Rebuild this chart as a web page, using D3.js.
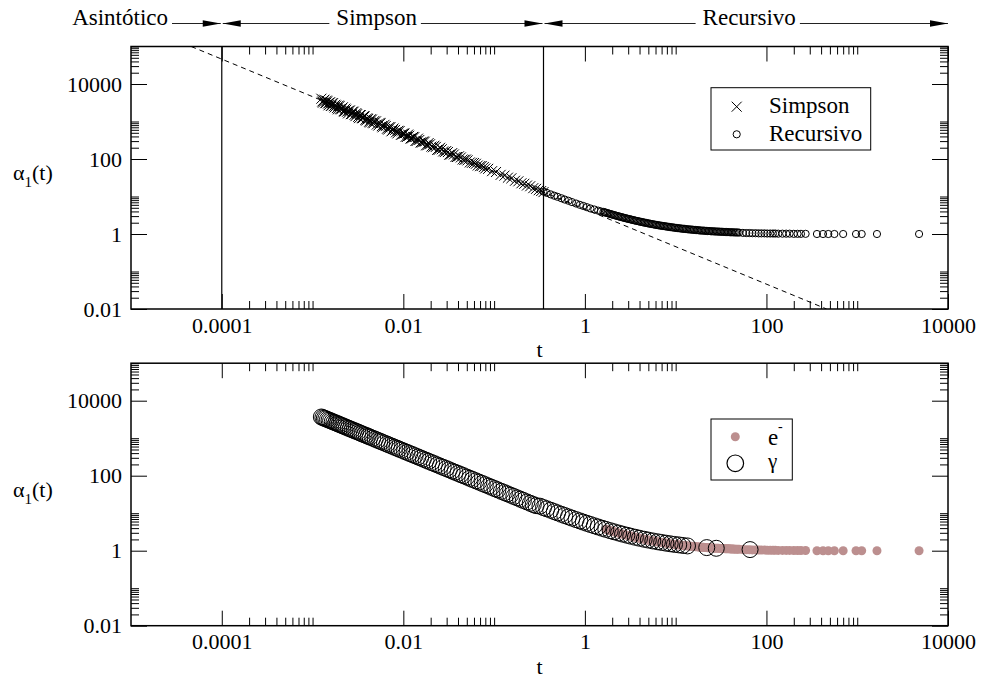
<!DOCTYPE html>
<html>
<head>
<meta charset="utf-8">
<script src="https://cdn.jsdelivr.net/npm/d3@7"></script>
<style>
body { margin: 0; background: #fff; }
text { font-family: "Liberation Serif", "Times New Roman", serif; }
</style>
</head>
<body>
<svg id="mySvg" width="982" height="678"></svg>
<script>
var svg = d3.select("#mySvg");

// axis ticks
const xMajor = [1e-4, 1e-2, 1, 100, 1e4];
const xMajorLabels = ["0.0001", "0.01", "1", "100", "10000"];
const yMajor = [0.01, 1, 100, 1e4];
const yMajorLabels = ["0.01", "1", "100", "10000"];

// header regions (edges in t)
const headerLabels = ["Asintótico", "Simpson", "Recursivo"];
const headerEdges = [1e-4, 0.35, 1e4];
const dividerT = [1e-4, 0.35];

// asymptote (dashed)
const asymT = [4.6e-5, 460];
const asymA = [1e5, 0.01];

// Simpson
const simpsonT = [0.00125, 0.0013, 0.00135, 0.0014, 0.00145, 0.0015, 0.00156, 0.00162, 0.00168, 0.00175,
    0.00182, 0.0019, 0.00198, 0.00207, 0.00216, 0.00225, 0.00235, 0.00246, 0.00258, 0.0027,
    0.00283, 0.00297, 0.0031, 0.00325, 0.0034, 0.00357, 0.00375, 0.0039, 0.0041, 0.0043,
    0.0045, 0.0047, 0.005, 0.0053, 0.0056, 0.0059, 0.0062, 0.0066, 0.007, 0.0074,
    0.0078, 0.0083, 0.0088, 0.0094, 0.01,
    0.0106, 0.0113, 0.012, 0.0128, 0.0136, 0.0145, 0.0155, 0.0166, 0.0178, 0.019,
    0.0204, 0.022, 0.0236, 0.0254, 0.0275, 0.0297, 0.032, 0.0346, 0.0375, 0.041,
    0.045, 0.049,
    0.054, 0.06, 0.066, 0.073, 0.08, 0.086, 0.095, 0.105, 0.118, 0.13,
    0.142, 0.155, 0.17, 0.185, 0.2, 0.215, 0.23, 0.25, 0.27, 0.29,
    0.31, 0.33, 0.35,
    0.00128, 0.00133, 0.00138, 0.00143, 0.00148, 0.00153, 0.00159, 0.00165, 0.00171, 0.00178,
    0.00186, 0.00194, 0.00202, 0.00211, 0.0022, 0.0023, 0.0024, 0.00252, 0.00264, 0.00276,
    0.0029, 0.00303, 0.00318, 0.00333, 0.00348, 0.00366, 0.00382, 0.004, 0.0042, 0.0044,
    0.0046, 0.0048, 0.0051, 0.0055, 0.0058, 0.0064, 0.0068, 0.0072, 0.0076, 0.0081,
    0.0086, 0.0091, 0.0097, 0.0103, 0.011, 0.0116, 0.0124, 0.0132, 0.014, 0.015,
    0.016, 0.0172, 0.0184, 0.0197, 0.0212, 0.0228, 0.0245, 0.0265, 0.0286, 0.031,
    0.0333, 0.036, 0.039, 0.043, 0.047, 0.051, 0.057, 0.063, 0.07, 0.077];
const simpsonA = [4050, 3180, 3820, 3120, 3430, 2700, 3240, 2640, 3070, 2370,
    2650, 2110, 2560, 2110, 2400, 1840, 2060, 1650, 1960, 1580,
    1820, 1390, 1570, 1230, 1490, 1220, 1370, 1060, 1170, 940,
    1120, 900, 1010, 780, 890, 700, 815, 640, 710, 547,
    650, 515, 565, 440, 483,
    390, 448, 352, 388, 304, 349, 276, 294, 232, 266,
    214, 226, 175, 199, 159, 163, 130, 144, 113, 118,
    97, 97,
    81, 78, 67, 65, 56, 54.6, 47.4, 45, 37.8, 36,
    31.8, 30.6, 26.3, 25.4, 22.5, 21.8, 19.6, 18.8, 16.7, 16,
    14.7, 14, 13.1,
    3410, 3630, 3070, 3600, 3010, 3190, 2600, 3070, 2560, 2790,
    2280, 2660, 2140, 2290, 1880, 2200, 1820, 1950, 1570, 1830,
    1510, 1670, 1330, 1490, 1230, 1380, 1110, 1220, 986, 1150,
    930, 1035, 830, 920, 753, 755, 608, 703, 575, 596,
    481, 556, 450, 478, 389, 417, 352, 383, 302, 322,
    273, 289, 232, 248, 206, 210, 175, 182, 153, 153,
    131, 132, 113, 110, 95, 92, 79, 74.5, 64.4, 60.9];

// Recursivo
const recT = [0.35, 0.38, 0.42, 0.46, 0.5, 0.55, 0.6, 0.66, 0.72, 0.8,
    0.88, 0.96, 1.05, 1.15, 1.27, 1.4, 1.5,
    1.6, 1.65, 1.7, 1.76, 1.82, 1.88, 1.95, 2.02, 2.09, 2.16,
    2.24, 2.32, 2.4, 2.48, 2.57, 2.66, 2.75, 2.85, 2.95, 3.05,
    3.16, 3.27, 3.38, 3.5, 3.62, 3.75, 3.88, 4.02, 4.16, 4.3,
    4.45, 4.6, 4.76, 4.93, 5.1, 5.28, 5.47, 5.66, 5.86, 6.06,
    6.27, 6.49, 6.72, 6.96, 7.2, 7.45, 7.71, 7.98, 8.26, 8.55,
    8.85, 9.16, 9.48, 9.81, 10.15, 10.5, 10.9, 11.3, 11.7, 12.1,
    12.5, 12.9, 13.4, 13.9, 14.4, 14.9, 15.4, 15.9, 16.5, 17.1,
    17.7, 18.3, 18.9, 19.6, 20.3, 21, 21.7, 22.5, 23.3, 24.1,
    24.9, 25.8, 26.7, 27.6, 28.6, 29.6, 30.6, 31.7, 32.8, 34,
    35.2, 36.4, 37.7, 39, 40.4, 41.8, 43.3, 44.8, 46.4, 48, 50,
    55, 60, 65, 70, 76, 82, 88, 95, 102,
    110, 118, 125, 135, 150, 165, 180, 200, 220, 240,
    270, 360, 420, 480, 560, 700, 970, 1120, 1650, 4800];
const recA = [13.5, 12.5, 11.4, 10.5, 9.8, 9.0, 8.3, 7.7, 7.1, 6.5,
    6.0, 5.6, 5.2, 4.8, 4.5, 4.2, 4.0,
    3.88, 3.79, 3.71, 3.61, 3.53, 3.45, 3.36, 3.28, 3.20, 3.13,
    3.05, 2.98, 2.92, 2.85, 2.79, 2.73, 2.67, 2.61, 2.56, 2.51,
    2.46, 2.41, 2.36, 2.31, 2.27, 2.23, 2.19, 2.14, 2.11, 2.07,
    2.03, 2.00, 1.97, 1.93, 1.90, 1.87, 1.84, 1.81, 1.78, 1.76,
    1.73, 1.71, 1.68, 1.66, 1.64, 1.62, 1.60, 1.58, 1.56, 1.54,
    1.52, 1.50, 1.49, 1.47, 1.45, 1.44, 1.42, 1.41, 1.39, 1.38,
    1.37, 1.36, 1.34, 1.33, 1.32, 1.31, 1.30, 1.29, 1.28, 1.27,
    1.26, 1.25, 1.24, 1.23, 1.23, 1.22, 1.21, 1.20, 1.20, 1.19,
    1.18, 1.18, 1.17, 1.17, 1.16, 1.16, 1.15, 1.15, 1.14, 1.14,
    1.13, 1.13, 1.12, 1.12, 1.11, 1.11, 1.11, 1.10, 1.10, 1.10, 1.09,
    1.07, 1.06, 1.06, 1.05, 1.05, 1.04, 1.04, 1.04, 1.03,
    1.03, 1.03, 1.03, 1.02, 1.02, 1.02, 1.02, 1.01, 1.01, 1.01,
    1.01, 1.0, 1.0, 1.0, 1.0, 1.0, 1.0, 1.0, 1.0, 1.0];

// gamma (bottom panel); e- uses the recursive points from t = 1.7
const gammaT = [0.00125, 0.0013, 0.00135, 0.0014, 0.00146, 0.00152, 0.00158, 0.00165, 0.00172, 0.0018,
    0.00188, 0.00196, 0.00205, 0.00215, 0.00225, 0.00236, 0.00248, 0.0026, 0.00273, 0.00287,
    0.003, 0.00316, 0.00333, 0.0035, 0.0037, 0.0039, 0.0041, 0.0043, 0.0046, 0.0049,
    0.0052, 0.0055, 0.0058, 0.0062, 0.0066, 0.007, 0.0075, 0.008, 0.0085, 0.009,
    0.0096, 0.0103, 0.011, 0.0118, 0.0126, 0.0135, 0.0145, 0.0155, 0.0166, 0.0178,
    0.019, 0.0205, 0.022, 0.0237, 0.0255, 0.0275, 0.0297, 0.032, 0.0345, 0.037,
    0.04, 0.043, 0.046, 0.05, 0.054, 0.058, 0.063, 0.068, 0.074, 0.08,
    0.087, 0.094, 0.102, 0.11, 0.12, 0.13, 0.14, 0.152, 0.165, 0.18,
    0.195, 0.21, 0.23, 0.25, 0.27, 0.29, 0.32, 0.35, 0.38, 0.42,
    0.46, 0.5, 0.55, 0.6, 0.66, 0.72, 0.8, 0.88, 0.96, 1.05,
    1.15, 1.27, 1.4, 1.55, 1.7, 1.9, 2.1, 2.35, 2.6, 2.9,
    3.2, 3.6, 4.0, 4.5, 5.0, 5.6, 6.3, 7.0, 7.8, 8.7,
    9.7, 10.8, 12, 13.5, 22, 28, 66];
const gammaA = [3680, 3540, 3410, 3290, 3150, 3030, 2910, 2790, 2670, 2560,
    2450, 2350, 2240, 2140, 2040, 1950, 1850, 1770, 1680, 1600,
    1530, 1460, 1380, 1310, 1240, 1180, 1120, 1070, 1000, 939,
    885, 836, 793, 742, 697, 657, 613, 575, 541, 511,
    479, 447, 418, 390, 365, 341, 317, 297, 277, 258,
    242, 224, 209, 194, 180, 167, 155, 144, 133, 124,
    115, 107, 100, 92, 85, 79.3, 73, 67.6, 62.2, 57.5,
    52.9, 48.9, 45.1, 41.8, 38.3, 35.4, 32.9, 30.3, 27.9, 25.6,
    23.6, 21.9, 20.0, 18.4, 17.0, 15.9, 15.4, 14.1, 13.1, 12.0,
    11.0, 10.2, 9.36, 8.67, 7.97, 7.39, 6.75, 6.23, 5.79, 5.38,
    5.0, 4.62, 4.29, 3.97, 3.71, 3.42, 3.19, 2.96, 2.77, 2.59,
    2.44, 2.28, 2.15, 2.02, 1.92, 1.82, 1.73, 1.66, 1.59, 1.53,
    1.47, 1.43, 1.38, 1.34, 1.21, 1.16, 1.07];
const electronStartT = 1.7;

const eColor = "#bc8f8f";
const fontSize = 22;

var x = d3.scaleLog().domain([1e-5, 1e4]).range([131, 948]);
var yTop = d3.scaleLog().domain([0.01, 1e5]).range([309, 46.5]);
var yBot = d3.scaleLog().domain([0.01, 1e5]).range([625.7, 363.2]);

function minorTicks(majors, domain) {
    let out = [];
    majors.forEach(m => {
        for (let k = 2; k <= 10; k++) {
            let v = m * k;
            if (v >= domain[0] * 1.0001 && v <= domain[1] * 1.0001) out.push(v);
        }
    });
    return out;
}

function styleAxis(g) {
    g.select(".domain").remove();
    g.attr("font-size", fontSize).attr("font-family", null);
    g.selectAll("line").attr("stroke", "black").attr("stroke-width", 1);
    g.selectAll("text").attr("fill", "black");
}

function drawPanel(y) {
    const x0 = x.range()[0], x1 = x.range()[1];
    const yb = y.range()[0], yt = y.range()[1];
    const xMinor = minorTicks(xMajor, x.domain());
    const yMinor = minorTicks(yMajor, y.domain());

    // bottom
    svg.append("g").attr("transform", `translate(0,${yb})`)
        .call(d3.axisBottom(x).tickValues(xMajor).tickFormat((d, i) => xMajorLabels[i]).tickSize(-15).tickPadding(8))
        .call(styleAxis);
    svg.append("g").attr("transform", `translate(0,${yb})`)
        .call(d3.axisBottom(x).tickValues(xMinor).tickFormat("").tickSize(-8))
        .call(styleAxis);
    // top
    svg.append("g").attr("transform", `translate(0,${yt})`)
        .call(d3.axisTop(x).tickValues(xMajor).tickFormat("").tickSize(-15))
        .call(styleAxis);
    svg.append("g").attr("transform", `translate(0,${yt})`)
        .call(d3.axisTop(x).tickValues(xMinor).tickFormat("").tickSize(-8))
        .call(styleAxis);
    // left
    svg.append("g").attr("transform", `translate(${x0},0)`)
        .call(d3.axisLeft(y).tickValues(yMajor).tickFormat((d, i) => yMajorLabels[i]).tickSize(-16).tickPadding(9))
        .call(styleAxis);
    svg.append("g").attr("transform", `translate(${x0},0)`)
        .call(d3.axisLeft(y).tickValues(yMinor).tickFormat("").tickSize(-8))
        .call(styleAxis);
    // right
    svg.append("g").attr("transform", `translate(${x1},0)`)
        .call(d3.axisRight(y).tickValues(yMajor).tickFormat("").tickSize(-16))
        .call(styleAxis);
    svg.append("g").attr("transform", `translate(${x1},0)`)
        .call(d3.axisRight(y).tickValues(yMinor).tickFormat("").tickSize(-8))
        .call(styleAxis);

    // frame
    svg.append("rect")
        .attr("x", x0).attr("y", yt)
        .attr("width", x1 - x0).attr("height", yb - yt)
        .attr("fill", "none").attr("stroke", "black").attr("stroke-width", 1.5);

    // axis labels
    svg.append("text").attr("x", (x0 + x1) / 2).attr("y", yb + 48)
        .attr("text-anchor", "middle").attr("font-size", fontSize).text("t");
    var yl = svg.append("text").attr("x", 13).attr("y", (yb + yt) / 2 + 2.5).attr("font-size", fontSize);
    yl.append("tspan").text("α");
    yl.append("tspan").attr("dy", 7).attr("font-size", 15).text("1");
    yl.append("tspan").attr("dy", -7).text("(t)");
}

// ---------- top panel ----------
drawPanel(yTop);

svg.append("clipPath").attr("id", "clipTop").append("rect")
    .attr("x", 131).attr("y", 46.5).attr("width", 817).attr("height", 262.5);
svg.append("clipPath").attr("id", "clipBot").append("rect")
    .attr("x", 131).attr("y", 363.2).attr("width", 817).attr("height", 262.5);

var topG = svg.append("g");

topG.selectAll(".divider").data(dividerT).enter().append("line")
    .attr("x1", d => x(d)).attr("x2", d => x(d))
    .attr("y1", yTop.range()[1]).attr("y2", yTop.range()[0])
    .attr("stroke", "black").attr("stroke-width", 1.2);

topG.append("line")
    .attr("clip-path", "url(#clipTop)")
    .attr("x1", x(asymT[0])).attr("y1", yTop(asymA[0]))
    .attr("x2", x(asymT[1])).attr("y2", yTop(asymA[1]))
    .attr("stroke", "black").attr("stroke-width", 1).attr("stroke-dasharray", "5,4");

const crossPath = "M-5,-5L5,5M-5,5L5,-5";
topG.selectAll(".simp").data(simpsonT).enter().append("path")
    .attr("d", crossPath)
    .attr("transform", (d, i) => `translate(${x(d)},${yTop(simpsonA[i])})`)
    .attr("stroke", "black").attr("stroke-width", 1).attr("fill", "none");

topG.selectAll(".rec").data(recT).enter().append("circle")
    .attr("cx", d => x(d)).attr("cy", (d, i) => yTop(recA[i]))
    .attr("r", 3.6).attr("fill", "none").attr("stroke", "black").attr("stroke-width", 1);

// legend top
var lg1 = svg.append("g");
lg1.append("rect").attr("x", 711).attr("y", 87.7).attr("width", 159.7).attr("height", 62.3)
    .attr("fill", "white").attr("stroke", "black").attr("stroke-width", 1);
lg1.append("path").attr("d", crossPath).attr("transform", "translate(736.7,106.7)")
    .attr("stroke", "black").attr("stroke-width", 1);
lg1.append("text").attr("x", 769).attr("y", 112.7).attr("font-size", 23).text("Simpson");
lg1.append("circle").attr("cx", 736.7).attr("cy", 134.3).attr("r", 3.6)
    .attr("fill", "none").attr("stroke", "black").attr("stroke-width", 1);
lg1.append("text").attr("x", 769).attr("y", 140.7).attr("font-size", 23).text("Recursivo");

// ---------- header ----------
const hy = 23.5;
function arrowHead(tipX, dir) {
    svg.append("path")
        .attr("d", `M${tipX},${hy}L${tipX - dir * 18},${hy - 3.2}L${tipX - dir * 18},${hy + 3.2}Z`)
        .attr("fill", "black");
}
function hline(a, b) {
    svg.append("line").attr("x1", a).attr("x2", b).attr("y1", hy).attr("y2", hy)
        .attr("stroke", "#222").attr("stroke-width", 1);
}
const headerCenterShift = [0, -6, 3];
headerLabels.forEach((lab, i) => {
    let right = x(headerEdges[i]) - (i < 2 ? 1 : 0);
    let t = svg.append("text").attr("y", 25).attr("font-size", 23).text(lab);
    let w = t.node().getComputedTextLength();
    if (i == 0) {
        t.attr("x", 168).attr("text-anchor", "end");
        hline(168 + 4, right);
    } else {
        let left = x(headerEdges[i - 1]) + 1;
        let cx = (left + right) / 2 + headerCenterShift[i];
        t.attr("x", cx).attr("text-anchor", "middle");
        hline(left, cx - w / 2 - 7);
        hline(cx + w / 2 + 4, right);
        arrowHead(left, -1);
    }
    arrowHead(right, 1);
});

// ---------- bottom panel ----------
drawPanel(yBot);

var bot = svg.append("g").attr("clip-path", "url(#clipBot)");
const eT = recT.filter(d => d >= electronStartT);
const eA = recA.filter((d, i) => recT[i] >= electronStartT);

bot.selectAll(".el").data(eT).enter().append("circle")
    .attr("cx", d => x(d)).attr("cy", (d, i) => yBot(eA[i]))
    .attr("r", 4.5).attr("fill", eColor);

bot.selectAll(".gam").data(gammaT).enter().append("circle")
    .attr("cx", d => x(d)).attr("cy", (d, i) => yBot(gammaA[i]))
    .attr("r", 8).attr("fill", "none").attr("stroke", "black").attr("stroke-width", 1);

// legend bottom
var lg2 = svg.append("g");
lg2.append("rect").attr("x", 711).attr("y", 419).attr("width", 81.3).attr("height", 61)
    .attr("fill", "white").attr("stroke", "black").attr("stroke-width", 1);
lg2.append("circle").attr("cx", 735.3).attr("cy", 436.7).attr("r", 4.5).attr("fill", eColor);
lg2.append("text").attr("x", 768).attr("y", 445).attr("font-size", 23).text("e");
lg2.append("text").attr("x", 778).attr("y", 431).attr("font-size", 14).text("-");
lg2.append("circle").attr("cx", 735.3).attr("cy", 463.3).attr("r", 8.3)
    .attr("fill", "none").attr("stroke", "black").attr("stroke-width", 1.2);
lg2.append("text").attr("x", 768).attr("y", 468).attr("font-size", 21).text("γ");
</script>
</body>
</html>
